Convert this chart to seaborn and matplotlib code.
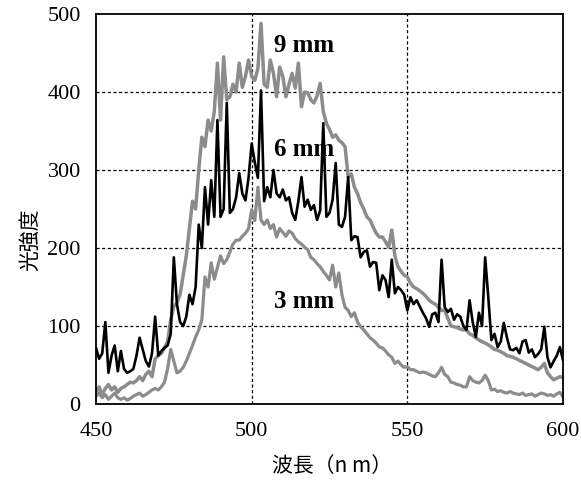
import numpy as np
import pandas as pd
import matplotlib
matplotlib.use("Agg")
import matplotlib.pyplot as plt
import seaborn as sns

wavelength = list(range(450, 601))

mm6 = [72, 58, 65, 105, 40, 62, 75, 42, 68, 45,
       40, 42, 45, 62, 85, 70, 55, 48, 65, 112,
       62, 68, 72, 75, 90, 188, 128, 105, 100, 112,
       140, 128, 150, 230, 200, 278, 230, 287, 240, 364,
       240, 250, 386, 245, 250, 265, 296, 270, 261, 290,
       334, 310, 290, 402, 260, 278, 265, 300, 270, 265,
       275, 261, 265, 245, 236, 260, 291, 253, 262, 249,
       255, 236, 248, 360, 240, 245, 262, 309, 230, 227,
       240, 291, 210, 215, 214, 188, 195, 197, 176, 182,
       181, 146, 165, 159, 137, 185, 142, 150, 146, 140,
       120, 137, 128, 133, 125, 117, 110, 99, 115, 117,
       105, 185, 124, 118, 122, 108, 115, 112, 100, 95,
       133, 105, 86, 117, 100, 188, 137, 82, 90, 73,
       80, 104, 85, 70, 69, 72, 65, 80, 82, 66,
       70, 60, 64, 70, 99, 60, 47, 55, 62, 73,
       56]

mm9 = [15, 22, 12, 20, 25, 18, 22, 15, 20, 22,
       25, 28, 27, 30, 35, 30, 38, 42, 35, 58,
       62, 65, 72, 80, 108, 125, 130, 140, 165, 190,
       225, 260, 250, 300, 342, 330, 364, 350, 375, 437,
       364, 445, 390, 394, 410, 400, 437, 406, 420, 441,
       420, 415, 430, 488, 410, 406, 441, 424, 394, 432,
       420, 394, 410, 424, 405, 437, 381, 400, 399, 390,
       386, 395, 411, 375, 360, 352, 342, 345, 338, 335,
       330, 291, 295, 278, 270, 258, 250, 240, 236, 227,
       219, 214, 214, 208, 201, 223, 190, 176, 170, 165,
       163, 155, 150, 148, 145, 142, 138, 133, 130, 128,
       124, 120, 120, 110, 100, 99, 98, 96, 95, 95,
       90, 88, 85, 82, 80, 78, 76, 73, 70, 69,
       67, 65, 62, 61, 60, 58, 56, 54, 52, 50,
       48, 46, 44, 47, 52, 40, 35, 31, 33, 35,
       34]

mm3 = [10, 14, 8, 12, 6, 10, 14, 8, 6, 8,
       5, 7, 10, 12, 14, 10, 12, 15, 18, 20,
       18, 22, 28, 45, 70, 55, 40, 42, 47, 55,
       65, 75, 86, 95, 108, 163, 150, 181, 160, 175,
       190, 180, 185, 195, 205, 210, 210, 215, 219, 225,
       249, 235, 278, 236, 230, 236, 225, 230, 214, 225,
       220, 215, 222, 219, 212, 208, 205, 201, 198, 188,
       185, 180, 176, 170, 165, 159, 178, 150, 168, 140,
       124, 120, 112, 117, 105, 99, 95, 90, 85, 82,
       78, 73, 72, 68, 63, 60, 52, 55, 50, 47,
       48, 44, 44, 42, 40, 41, 40, 38, 36, 35,
       40, 47, 38, 35, 28, 27, 25, 24, 22, 22,
       35, 30, 28, 27, 30, 37, 30, 18, 19, 16,
       17, 15, 14, 16, 14, 13, 12, 14, 11, 12,
       13, 10, 12, 14, 13, 11, 12, 10, 13, 15,
       9]

labels = ["9 mm", "6 mm", "3 mm"]
label_pos = [(516.7, 460), (516.7, 326), (516.7, 132)]

xticks = [450, 500, 550, 600]
yticks = [0, 100, 200, 300, 400, 500]

sns.set_theme(style="white")
plt.rcParams['font.family'] = ['Liberation Serif', 'DejaVu Serif']
plt.rcParams['text.color'] = 'black'
plt.rcParams['xtick.color'] = 'black'
plt.rcParams['ytick.color'] = 'black'
plt.rcParams['axes.labelcolor'] = 'black'

fig = plt.figure(figsize=(5.81, 4.84), dpi=100)
ax = fig.add_axes([96/581, 1-404/484, (563-96)/581, (404-14)/484])

gray = "#8c8c8c"
sns.lineplot(x=wavelength, y=mm3, ax=ax, color=gray, lw=2.3)
sns.lineplot(x=wavelength, y=mm9, ax=ax, color=gray, lw=2.5)
sns.lineplot(x=wavelength, y=mm6, ax=ax, color="black", lw=1.9)

ax.set_xlim(450, 600)
ax.set_ylim(0, 500)
ax.set_xticks(xticks)
ax.set_yticks(yticks)
ax.set_xticklabels([str(t) for t in xticks], fontsize=16)
ax.set_yticklabels([str(t) for t in yticks], fontsize=16)
ax.tick_params(axis='x', length=0, pad=13, colors='black')
ax.tick_params(axis='y', length=0, pad=11, colors='black')

for v in [500, 550]:
    ax.axvline(v, color="black", lw=0.9, ls=(0, (2.5, 2)), zorder=0)
for v in [100, 200, 300, 400]:
    ax.axhline(v, color="black", lw=0.9, ls=(0, (2.5, 2)), zorder=0)

for s in ax.spines.values():
    s.set_color("black")
    s.set_linewidth(1.3)

for txt, (x, y) in zip(labels, label_pos):
    ax.text(x, y, txt, fontsize=18, fontweight='bold', ha='center', va='center',
            color='black', family=['Liberation Serif', 'DejaVu Serif'])

fig.text(30/581, 1-240/484, "光強度", rotation=90, ha='center', va='center',
         fontsize=15, color='black', family=['Noto Sans CJK JP', 'DejaVu Sans'])
fig.text(332/581, 1-466/484, "波長（n m）", ha='center', va='center',
         fontsize=15, color='black', family=['Noto Sans CJK JP', 'DejaVu Sans'])

fig.savefig("out.png", dpi=100)
